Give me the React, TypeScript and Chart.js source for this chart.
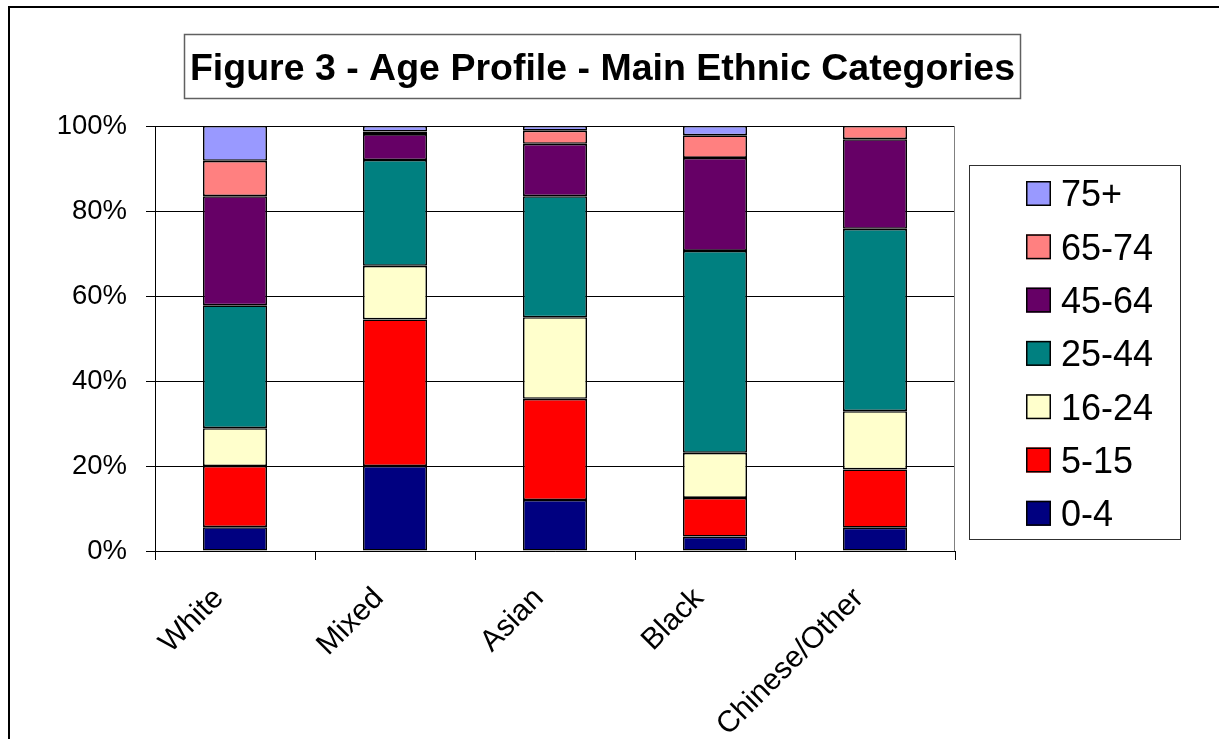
import React, { useEffect, useRef } from "react";
import { Chart, registerables } from "chart.js";

Chart.register(...registerables);

const titleText = "Figure 3 - Age Profile - Main Ethnic Categories";
const categories = ["White", "Mixed", "Asian", "Black", "Chinese/Other"];
const ageGroups = ["0-4", "5-15", "16-24", "25-44", "45-64", "65-74", "75+"];
const age0to4 = [5.6, 20.0, 12.0, 3.4, 5.5];
const age5to15 = [14.4, 34.5, 23.8, 9.1, 13.7];
const age16to24 = [8.9, 12.6, 19.2, 10.6, 13.7];
const age25to44 = [28.9, 24.9, 28.5, 47.5, 42.9];
const age45to64 = [25.7, 6.1, 12.3, 21.9, 21.1];
const age65to74 = [8.3, 0.6, 3.1, 5.3, 3.1];
const age75plus = [8.2, 1.3, 1.1, 2.2, 0.0];
const seriesValues = [age0to4, age5to15, age16to24, age25to44, age45to64, age65to74, age75plus];
const seriesColors = ["#000080", "#FF0000", "#FFFFCC", "#008080", "#660066", "#FF8080", "#9999FF"];
const yTickValues = [0, 20, 40, 60, 80, 100];

const FONT = "'Liberation Sans', Arial, sans-serif";

const decorPlugin = {
  id: "decor",
  afterDraw(chart: any) {
    const ctx = chart.ctx as CanvasRenderingContext2D;
    const area = chart.chartArea;
    ctx.save();
    // plot area right border
    ctx.strokeStyle = "#808080";
    ctx.lineWidth = 1;
    ctx.beginPath();
    ctx.moveTo(Math.round(area.right) - 0.5, area.top);
    ctx.lineTo(Math.round(area.right) - 0.5, area.bottom);
    ctx.stroke();

    // title box
    ctx.strokeStyle = "#606060";
    ctx.lineWidth = 1.5;
    ctx.strokeRect(184.5, 34.5, 836, 64);
    ctx.fillStyle = "#000";
    ctx.font = `bold 37.5px ${FONT}`;
    ctx.textAlign = "center";
    ctx.textBaseline = "alphabetic";
    ctx.fillText(titleText, 602.5, 80);

    // legend box
    ctx.strokeStyle = "#303030";
    ctx.lineWidth = 1;
    ctx.strokeRect(969.5, 165.5, 211, 374);
    const ds = chart.data.datasets;
    ctx.font = `36px ${FONT}`;
    ctx.textAlign = "left";
    for (let k = 0; k < ds.length; k++) {
      const d = ds[ds.length - 1 - k];
      const top = 181 + k * 53.3;
      ctx.fillStyle = d.backgroundColor;
      ctx.fillRect(1026, top, 25, 25);
      ctx.strokeStyle = "#000";
      ctx.lineWidth = 1.5;
      ctx.strokeRect(1026.75, top + 0.75, 23.5, 23.5);
      ctx.fillStyle = "#000";
      ctx.fillText(d.label, 1061, top + 12.5 + 12.8);
    }
    ctx.restore();
  },
};

export default function App() {
  const ref = useRef<HTMLCanvasElement | null>(null);

  useEffect(() => {
    if (!ref.current) return;
    const chart = new Chart(ref.current, {
      type: "bar",
      data: {
        labels: categories,
        datasets: ageGroups.map((g, i) => ({
          label: g,
          data: seriesValues[i],
          backgroundColor: seriesColors[i],
          borderColor: "#000000",
          borderWidth: 1.6,
          borderSkipped: false,
          categoryPercentage: 1,
          barPercentage: 0.4,
        })),
      },
      options: {
        animation: false,
        responsive: false,
        devicePixelRatio: 1,
        layout: { padding: { left: 0, top: 126, right: 264, bottom: 0 } },
        plugins: {
          legend: { display: false },
          title: { display: false },
          tooltip: { enabled: false },
        },
        scales: {
          x: {
            stacked: true,
            afterFit: (s: any) => {
              s.height = 188;
            },
            grid: {
              offset: true,
              drawOnChartArea: false,
              drawTicks: true,
              tickLength: 9,
              color: "#000",
              lineWidth: 1,
            },
            border: { color: "#000", width: 1 },
            ticks: {
              autoSkip: false,
              minRotation: 45,
              maxRotation: 45,
              padding: 21,
              labelOffset: -16,
              color: "#000",
              font: { family: FONT, size: 30 },
            },
          },
          y: {
            stacked: true,
            min: 0,
            max: 100,
            afterFit: (s: any) => {
              s.width = 155;
            },
            afterBuildTicks: (s: any) => {
              s.ticks = yTickValues.map((v) => ({ value: v }));
            },
            grid: {
              color: "#000",
              lineWidth: 1,
              drawTicks: true,
              tickLength: 9,
            },
            border: { color: "#000", width: 1 },
            ticks: {
              padding: 19,
              color: "#000",
              font: { family: FONT, size: 27.5 },
              callback: (v: any) => `${v}%`,
            },
          },
        },
      },
      plugins: [decorPlugin],
    });
    return () => chart.destroy();
  }, []);

  return (
    <div
      style={{
        position: "fixed",
        left: 0,
        top: 0,
        width: 1219,
        height: 739,
        overflow: "hidden",
        background: "#fff",
      }}
    >
      <div
        style={{
          position: "absolute",
          left: 8,
          top: 6,
          width: 1400,
          height: 900,
          borderTop: "2px solid #000",
          borderLeft: "2px solid #000",
        }}
      />
      <canvas
        ref={ref}
        width={1219}
        height={739}
        style={{ position: "absolute", left: 0, top: 0, width: 1219, height: 739 }}
      />
    </div>
  );
}
